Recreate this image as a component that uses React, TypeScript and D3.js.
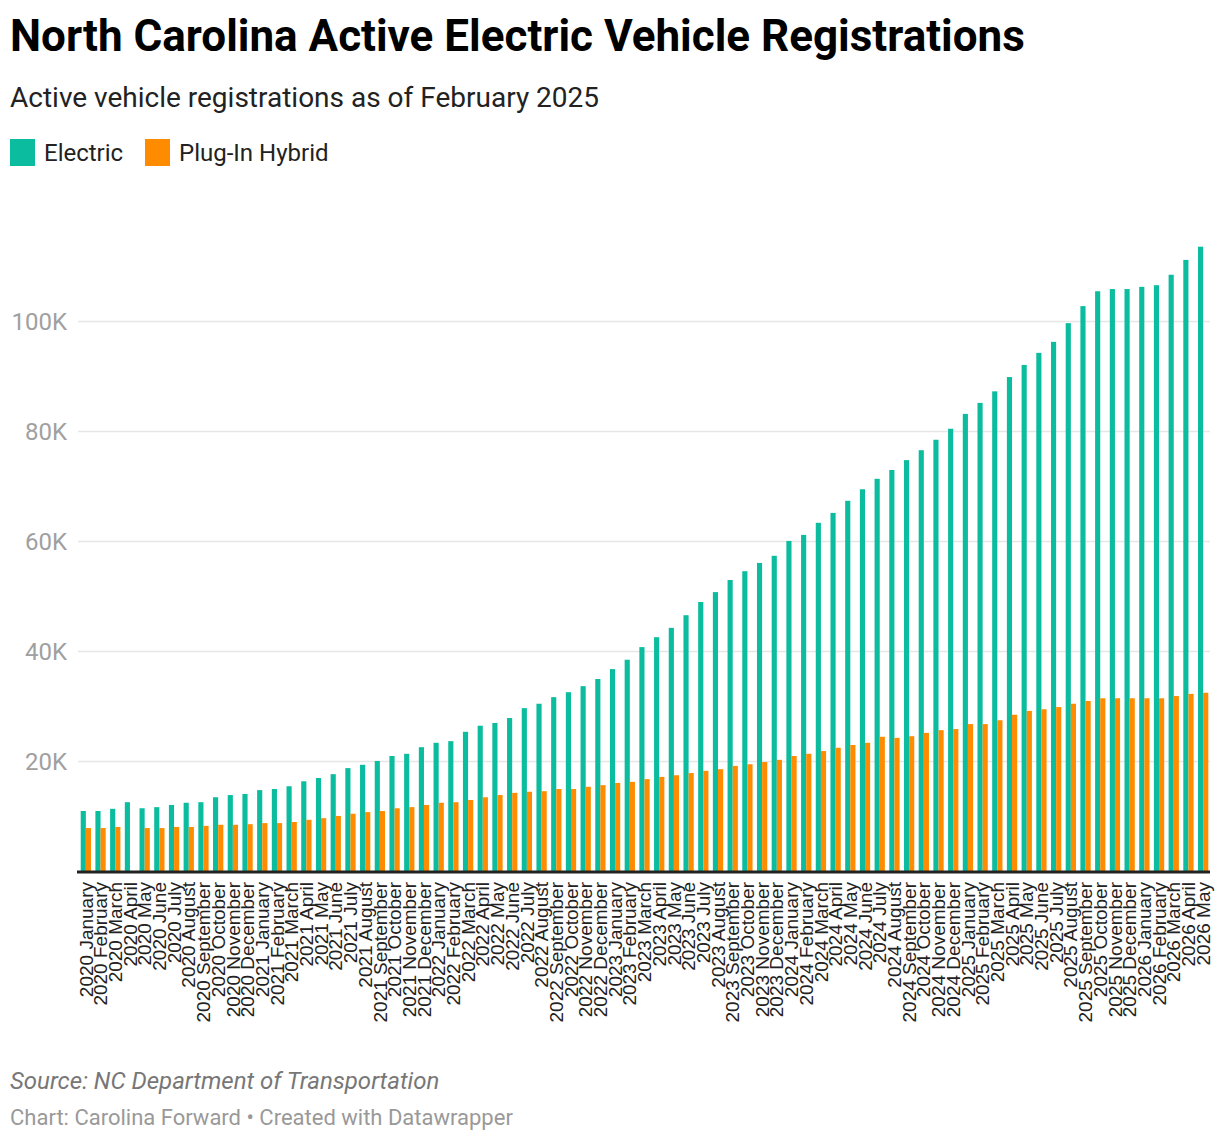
import React from "react";
import * as d3 from "d3";

const TITLE = "North Carolina Active Electric Vehicle Registrations";
const SUBTITLE = "Active vehicle registrations as of February 2025";
const SOURCE = "Source: NC Department of Transportation";
const CREDIT = "Chart: Carolina Forward • Created with Datawrapper";

const SERIES = ["Electric", "Plug-In Hybrid"];
const COLORS = ["#0bbd9e", "#ff8c00"];

const MONTHS = ["January", "February", "March", "April", "May", "June", "July", "August", "September", "October", "November", "December"];
const YEARS = [2020, 2021, 2022, 2023, 2024, 2025, 2026];
const CATEGORIES: string[] = YEARS.flatMap((y) => MONTHS.map((m) => `${y} ${m}`)).slice(0, 77);

const ELECTRIC = [
  11000, 11000, 11400, 12600, 11500, 11700, 12100, 12500, 12600, 13500, 13900, 14100,
  14800, 15000, 15500, 16400, 17000, 17700, 18800, 19400, 20100, 21000, 21400, 22600,
  23400, 23700, 25400, 26500, 27000, 27900, 29700, 30500, 31700, 32600, 33700, 35000,
  36800, 38500, 40800, 42600, 44300, 46600, 49000, 50800, 53000, 54600, 56100, 57400,
  60100, 61200, 63400, 65200, 67400, 69500, 71400, 73000, 74800, 76600, 78500, 80500,
  83200, 85200, 87300, 89900, 92100, 94300, 96300, 99700, 102800, 105500, 105900, 105900,
  106300, 106600, 108500, 111200, 113600,
];

const PHEV: (number | null)[] = [
  7900, 7900, 8100, null, 7900, 7900, 8100, 8100, 8300, 8500, 8500, 8600,
  8800, 8800, 9000, 9400, 9700, 10100, 10500, 10800, 11000, 11500, 11700, 12100,
  12500, 12600, 13000, 13500, 13900, 14300, 14500, 14600, 15000, 15000, 15400, 15700,
  16100, 16300, 16800, 17200, 17500, 17900, 18300, 18600, 19200, 19500, 19900, 20300,
  21000, 21400, 21900, 22500, 23000, 23400, 24500, 24300, 24600, 25200, 25700, 25900,
  26800, 26800, 27500, 28500, 29200, 29500, 29900, 30500, 31000, 31500, 31500, 31500,
  31500, 31500, 31900, 32300, 32500,
];

const Y_TICKS = [20000, 40000, 60000, 80000, 100000];
const Y_TICK_LABELS = ["20K", "40K", "60K", "80K", "100K"];

const W = 1220;
const H = 1144;
const FONT = "Roboto, 'Noto Sans', sans-serif";
const LABEL_FONT = "'Liberation Sans', Arial, sans-serif";

export default function App() {
  const left = 78;
  const right = 1210;
  const baseY = 871.5;

  const x = d3.scaleBand<string>().domain(CATEGORIES).range([78.5, 1210.5]).paddingInner(0.3).paddingOuter(0.15);
  const sub = d3.scaleBand<string>().domain(SERIES).range([0, x.bandwidth()]).padding(0);
  const y = d3.scaleLinear().domain([0, 100000]).range([baseY, 321.5]);

  const seriesValues = [ELECTRIC, PHEV];

  return (
    <svg
      width={W}
      height={H}
      style={{ position: "absolute", left: 0, top: 0, background: "#fff" }}
      fontFamily={FONT}
    >
      <text x={10} y={51} fontSize={44} fontWeight={700} fill="#000">{TITLE}</text>
      <text x={10} y={107} fontSize={28} fill="#222">{SUBTITLE}</text>

      {SERIES.map((s, i) => {
        const lx = i === 0 ? 10 : 145;
        return (
          <g key={s}>
            <rect x={lx} y={139} width={25} height={27} fill={COLORS[i]} />
            <text x={lx + 34} y={161} fontSize={24} fill="#222">{s}</text>
          </g>
        );
      })}

      {Y_TICKS.map((t, i) => (
        <g key={t}>
          <line x1={left} x2={right} y1={y(t)} y2={y(t)} stroke="#e6e6e6" strokeWidth={1.5} />
          <text x={67} y={y(t)} dy="0.35em" textAnchor="end" fontSize={24} fill="#a0a0a0">
            {Y_TICK_LABELS[i]}
          </text>
        </g>
      ))}

      {CATEGORIES.map((c, ci) => (
        <g key={c} transform={`translate(${x(c)},0)`}>
          {SERIES.map((s, si) => {
            const v = seriesValues[si][ci];
            if (v == null) return null;
            return (
              <rect
                key={s}
                x={sub(s)}
                y={y(v)}
                width={sub.bandwidth()}
                height={baseY - y(v)}
                fill={COLORS[si]}
              />
            );
          })}
        </g>
      ))}

      <line x1={77} x2={right} y1={baseY + 0.5} y2={baseY + 0.5} stroke="#222" strokeWidth={3} />

      {CATEGORIES.map((c) => {
        const cx = (x(c) as number) + x.bandwidth() / 2;
        return (
          <text
            key={c}
            transform={`translate(${cx},882) rotate(-90)`}
            textAnchor="end"
            dy="0.35em"
            fontSize={19}
            fontFamily={LABEL_FONT}
            fill="#222"
          >
            {c}
          </text>
        );
      })}

      <text x={10} y={1089} fontSize={24} fontStyle="italic" fill="#777">{SOURCE}</text>
      <text x={10} y={1125} fontSize={22} fill="#999">{CREDIT}</text>
    </svg>
  );
}
